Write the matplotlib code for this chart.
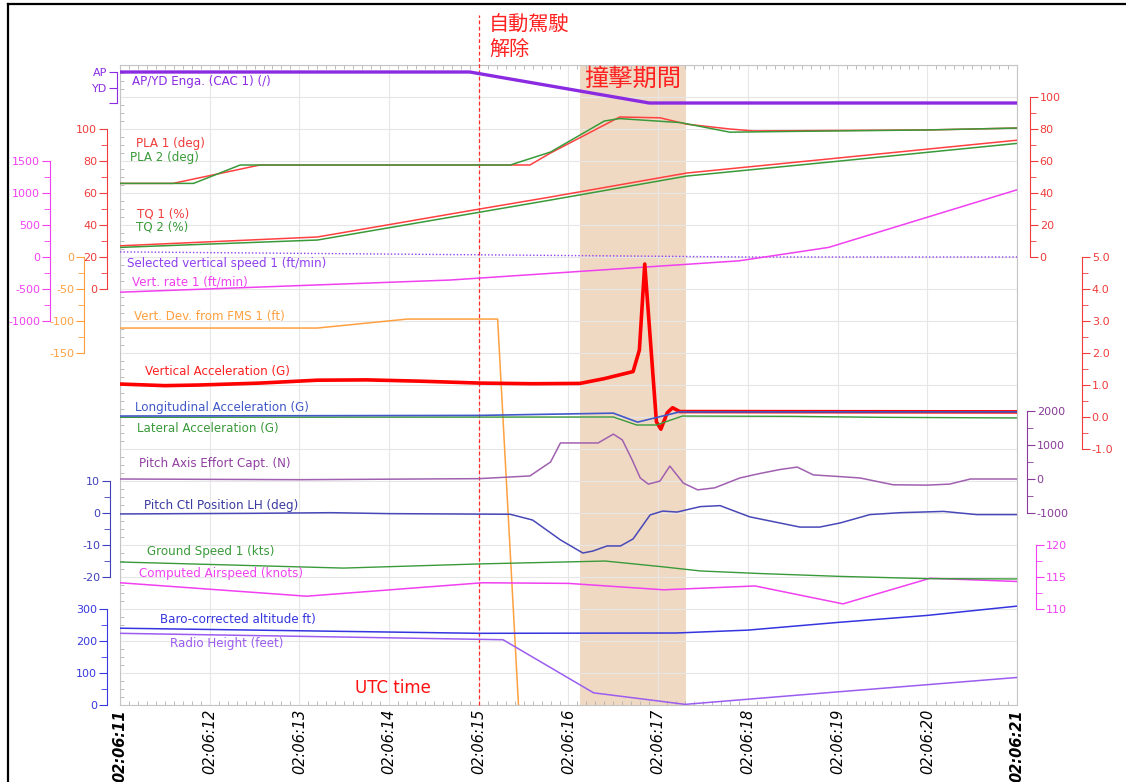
import matplotlib
matplotlib.use('Agg')
import matplotlib.pyplot as plt
from matplotlib.lines import Line2D

plt.rcParams['font.family'] = ['DejaVu Sans', 'Noto Sans CJK TC']

# time in seconds after 02:06:11
time_labels = ['02:06:11', '02:06:12', '02:06:13', '02:06:14', '02:06:15', '02:06:16',
               '02:06:17', '02:06:18', '02:06:19', '02:06:20', '02:06:21']

ap_t = [0, 3.9, 5.9, 10]
ap_v = [2, 2, 0, 0]

pla1_t = [0, 0.59, 1.56, 4.57, 4.8, 5.57, 6.02, 6.32, 6.8, 7.06, 9.0, 10]
pla1_v = [66, 66, 77.5, 77.5, 85, 107.5, 107, 103, 100, 98.8, 99.4, 100.6]
pla2_t = [0, 0.82, 1.34, 4.35, 4.8, 5.4, 5.57, 6.25, 6.8, 7.5, 9.0, 10]
pla2_v = [66, 66, 77.5, 77.5, 85.6, 105, 106.5, 104, 98, 98.5, 99.4, 100.6]

tq1_t = [0, 2.2, 4.01, 4.8, 6.32, 8.03, 10]
tq1_v = [7, 12.5, 30, 37.5, 52.5, 62, 73]
tq2_t = [0, 2.2, 4.01, 4.8, 6.32, 8.03, 10]
tq2_v = [6, 10.6, 28, 35.6, 50.6, 60, 71]

sel_vs_t = [0, 7.0, 10]
sel_vs_v = [80, 0, 0]

vrate_t = [0, 3.68, 6.9, 7.9, 10]
vrate_v = [-550, -360, -60, 150, 1050]

vdev_t = [0, 2.2, 3.2, 4.21, 4.45]
vdev_v = [-111, -111, -97, -97, -720]

vacc_t = [0, 0.5, 0.89, 1.56, 2.2, 2.75, 3.34, 4.01, 4.6, 5.13, 5.4, 5.72, 5.79, 5.85,
          5.98, 6.03, 6.10, 6.16, 6.24, 10]
vacc_v = [1.03, 0.98, 1.0, 1.06, 1.15, 1.16, 1.12, 1.06, 1.04, 1.05, 1.2, 1.42, 2.09, 4.78,
          -0.15, -0.38, 0.13, 0.29, 0.17, 0.16]

lon_t = [0, 4.0, 5.5, 5.77, 6.24, 10]
lon_v = [0.03, 0.05, 0.12, -0.16, 0.16, 0.16]

lat_t = [0, 5.5, 5.76, 5.98, 6.27, 7.5, 8.5, 10]
lat_v = [-0.01, 0.0, -0.25, -0.25, 0.03, 0.02, -0.01, -0.03]

effort_t = [0, 2.0, 4.0, 4.57, 4.8, 4.91, 5.33, 5.5, 5.6, 5.71, 5.8, 5.89, 6.02, 6.13,
            6.28, 6.44, 6.63, 6.91, 7.13, 7.36, 7.55, 7.73, 8.03, 8.25, 8.62, 9.0, 9.25,
            9.48, 10]
effort_v = [0, -20, 10, 90, 500, 1060, 1060, 1320, 1150, 560, 30, -150, -60, 380,
            -120, -320, -260, 30, 160, 280, 350, 120, 70, 30, -170, -180, -150,
            0, 0]

pitch_t = [0, 1.5, 2.35, 3.0, 4.35, 4.6, 4.91, 5.16, 5.27, 5.43, 5.58, 5.72, 5.91, 6.05,
           6.21, 6.47, 6.69, 7.02, 7.58, 7.8, 8.03, 8.36, 8.7, 9.18, 9.55, 10]
pitch_v = [-0.3, -0.1, 0.1, -0.2, -0.4, -2.2, -8.4, -12.5, -11.9, -10.3, -10.3, -8.1, -0.6, 0.6,
           0.3, 2.0, 2.3, -1.2, -4.4, -4.4, -3.1, -0.5, 0.1, 0.5, -0.5, -0.5]

gs_t = [0, 2.49, 4.01, 5.41, 6.05, 6.47, 7.13, 8.03, 9.0, 10]
gs_v = [124.0, 122.1, 123.4, 124.3, 122.5, 121.2, 120.4, 119.5, 118.8, 118.7]

cas_t = [0, 2.08, 4.04, 5.0, 6.06, 7.08, 8.06, 9.03, 10]
cas_v = [114.1, 112.0, 114.1, 114.0, 113.0, 113.6, 110.8, 114.8, 114.3]

alt_t = [0, 4.0, 6.2, 7.0, 8.0, 9.0, 10]
alt_v = [240, 224, 225, 234, 258, 280, 309]

rh_t = [0, 4.27, 5.28, 6.3, 8.0, 10]
rh_v = [224, 204, 38, 2, 41, 86]

impact_start, impact_end = 5.13, 6.31
ap_off_time = 4.0

W, H = 1126, 782
L, R, T, B = 120, 1017, 65, 705

fig = plt.figure(figsize=(W / 100, H / 100), dpi=100)
ax = fig.add_axes([L / W, (H - B) / H, (R - L) / W, (B - T) / H])
ax.set_xlim(0, 10)
ax.set_ylim(0, 20)
ax.set_xticks(range(11))
ax.set_xticks([i / 10 for i in range(101)], minor=True)
ax.set_yticks(range(21))
ax.set_yticks([i / 4 for i in range(81)], minor=True)
ax.set_yticklabels([])
ax.set_xticklabels(time_labels, rotation=90, fontsize=10.5, style='italic')
for i, lab in enumerate(ax.get_xticklabels()):
    if i in (0, 10):
        lab.set_fontweight('bold')
ax.tick_params(which='major', length=0, pad=3)
ax.tick_params(which='minor', direction='in', length=3, color='#b0b0b0',
               top=True, right=True, left=True, bottom=True)
ax.grid(True, which='major', color='#e6e6e6', lw=0.8)
for s in ax.spines.values():
    s.set_color('#c4c4c4')
ax.axvspan(impact_start, impact_end, color='#f0d9c3', zorder=0, lw=0)
ax.axvline(ap_off_time, ymin=0, ymax=(B - 15) / (B - T), color='#ff2a2a', lw=0.9,
           ls=(0, (3, 2)), clip_on=False, zorder=5)


def make_axis(side, x_px, v_ref, y_ref, px, bounds=None, ticks=None, labels=None,
              minor=None, color='k'):
    a = ax.twinx()
    a.set_ylim(v_ref + (y_ref - B) / px, v_ref + (y_ref - T) / px)
    for s in a.spines.values():
        s.set_visible(False)
    if side is None:
        a.set_yticks([])
        return a
    sp = a.spines[side]
    sp.set_visible(True)
    sp.set_position(('axes', (x_px - L) / (R - L)))
    sp.set_bounds(*bounds)
    sp.set_color(color)
    if side == 'left':
        a.yaxis.tick_left()
    else:
        a.yaxis.tick_right()
    a.set_yticks(ticks)
    a.set_yticklabels(labels if labels is not None else [str(v) for v in ticks])
    a.set_yticks(minor or [], minor=True)
    a.tick_params(axis='y', which='major', colors=color, labelsize=8, length=6, pad=1)
    a.tick_params(axis='y', which='minor', colors=color, length=4)
    return a


purple = '#8a2be2'
red = '#f03c3c'
green = '#3a9a3a'
magenta = '#f040f0'
orange = '#ffa040'

ax_ap = make_axis('left', 117, 2, 72, 15.5, (0, 2), [0, 1, 2], ['', 'YD', 'AP'], color=purple)
ax_pla = make_axis('left', 107, 0, 289, 1.6, (0, 100), [0, 20, 40, 60, 80, 100],
                   minor=[10, 30, 50, 70, 90], color=red)
ax_vr = make_axis('left', 50, 0, 257, 0.064, (-1000, 1500), [-1000, -500, 0, 500, 1000, 1500],
                  minor=[-750, -250, 250, 750, 1250], color=magenta)
ax_vd = make_axis('left', 84, 0, 257, 0.64, (-150, 0), [-150, -100, -50, 0],
                  minor=[-125, -75, -25], color=orange)
ax_pc = make_axis('left', 110, 0, 513, 3.2, (-20, 10), [-20, -10, 0, 10],
                  minor=[-15, -5, 5], color='#4040b8')
ax_alt = make_axis('left', 107, 0, 705, 0.32, (0, 300), [0, 100, 200, 300],
                   minor=[50, 150, 250], color='#3838e0')
ax_tq = make_axis('right', 1030, 0, 257, 1.6, (0, 100), [0, 20, 40, 60, 80, 100],
                  minor=[10, 30, 50, 70, 90], color=red)
ax_g = make_axis('right', 1082, 0, 417, 32, (-1, 5), [-1, 0, 1, 2, 3, 4, 5],
                 ['-1.0', '0.0', '1.0', '2.0', '3.0', '4.0', '5.0'],
                 minor=[-0.5, 0.5, 1.5, 2.5, 3.5, 4.5], color=red)
ax_ef = make_axis('right', 1027, 0, 479, 0.034, (-1000, 2000), [-1000, 0, 1000, 2000],
                  minor=[-500, 500, 1500], color='#8a3a9a')
ax_cas = make_axis('right', 1036, 110, 609, 6.4, (110, 120), [110, 115, 120],
                   minor=[112.5, 117.5], color=magenta)
ax_gs = make_axis(None, 0, 124, 562, 3.2)

ax_ap.plot(ap_t, ap_v, color=purple, lw=2.4)
ax_pla.plot(pla1_t, pla1_v, color='#ff4040', lw=1.1)
ax_pla.plot(pla2_t, pla2_v, color=green, lw=1.1)
ax_tq.plot(tq1_t, tq1_v, color='#ff4040', lw=1.1)
ax_tq.plot(tq2_t, tq2_v, color=green, lw=1.1)
ax_vr.plot(sel_vs_t, sel_vs_v, color='#9040f0', lw=1, ls=(0, (1, 1.5)))
ax_vr.plot(vrate_t, vrate_v, color=magenta, lw=1.1)
ax_vd.plot(vdev_t, vdev_v, color=orange, lw=1.1)
ax_g.plot(vacc_t, vacc_v, color='#ff0000', lw=2.6)
ax_g.plot(lat_t, lat_v, color=green, lw=1)
ax_g.plot(lon_t, lon_v, color='#4058c8', lw=1.2)
ax_ef.plot(effort_t, effort_v, color='#a060b0', lw=1.1)
ax_pc.plot(pitch_t, pitch_v, color='#4848b8', lw=1.1)
ax_gs.plot(gs_t, gs_v, color=green, lw=1)
ax_cas.plot(cas_t, cas_v, color=magenta, lw=1.1)
ax_alt.plot(alt_t, alt_v, color='#3535e0', lw=1.1)
ax_alt.plot(rh_t, rh_v, color='#9b5cf0', lw=1.1)


def label(x, y, s, color, size=8.6):
    fig.text(x / W, 1 - y / H, s, color=color, fontsize=size, va='center', ha='left')


label(132, 82, 'AP/YD Enga. (CAC 1) (/)', purple)
label(136, 143, 'PLA 1 (deg)', red)
label(130, 157, 'PLA 2 (deg)', green)
label(137, 214, 'TQ 1 (%)', red)
label(136, 227, 'TQ 2 (%)', green)
label(127, 264, 'Selected vertical speed 1 (ft/min)', '#9040f0')
label(132, 282, 'Vert. rate 1 (ft/min)', magenta)
label(134, 316, 'Vert. Dev. from FMS 1 (ft)', orange)
label(145, 371, 'Vertical Acceleration (G)', '#ff2020')
label(135, 407, 'Longitudinal Acceleration (G)', '#4058c8')
label(137, 429, 'Lateral Acceleration (G)', green)
label(139, 464, 'Pitch Axis Effort Capt. (N)', '#9040a0')
label(144, 506, 'Pitch Ctl Position LH (deg)', '#3a3aa0')
label(147, 552, 'Ground Speed 1 (kts)', green)
label(139, 573, 'Computed Airspeed (knots)', magenta)
label(160, 619, 'Baro-corrected altitude ft)', '#3535e0')
label(170, 643, 'Radio Height (feet)', '#9b5cf0')
label(355, 688, 'UTC time', '#ff1010', size=12)

cjk = ['Noto Sans CJK TC', 'DejaVu Sans']
fig.text(489 / W, 1 - 25 / H, '自動駕駛', color='#ff2020', fontsize=14.5, family=cjk,
         va='center', ha='left')
fig.text(489 / W, 1 - 49 / H, '解除', color='#ff2020', fontsize=14.5, family=cjk,
         va='center', ha='left')
fig.text(633 / W, 1 - 79 / H, '撞擊期間', color='#ff2020', fontsize=17.5, family=cjk,
         va='center', ha='center')

# outer frame (left and top edges)
fig.add_artist(Line2D([8 / W, 8 / W], [0, 1 - 4 / H], color='black', lw=1.6))
fig.add_artist(Line2D([8 / W, 1], [1 - 4 / H, 1 - 4 / H], color='black', lw=1.6))

fig.savefig('out.png', dpi=100)
